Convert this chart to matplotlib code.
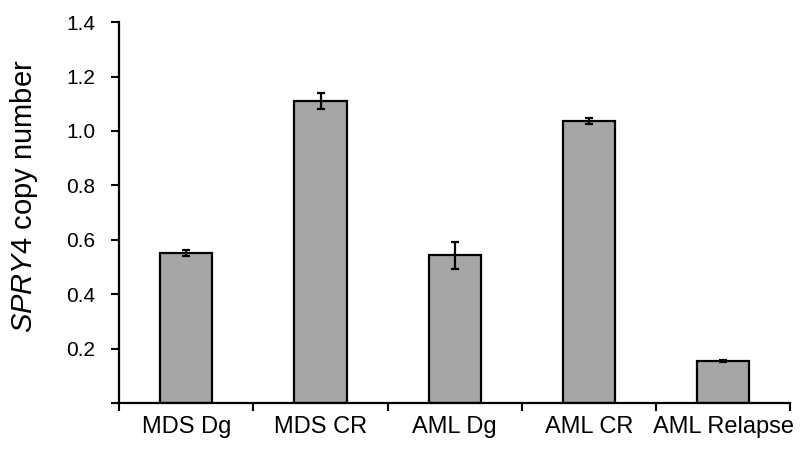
import matplotlib
matplotlib.use("Agg")
import matplotlib.pyplot as plt
import numpy as np

categories = ["MDS Dg", "MDS CR", "AML Dg", "AML CR", "AML Relapse"]
values = [0.551, 1.111, 0.543, 1.036, 0.154]
errors = [0.011, 0.030, 0.050, 0.012, 0.004]
yticks = [0.2, 0.4, 0.6, 0.8, 1.0, 1.2, 1.4]

plt.rcParams['font.family'] = ['Liberation Sans', 'DejaVu Sans']
plt.rcParams['mathtext.fontset'] = 'custom'
plt.rcParams['mathtext.rm'] = 'Liberation Sans'
plt.rcParams['mathtext.it'] = 'Liberation Sans:italic'

fig = plt.figure(figsize=(8, 4.51), dpi=100)
ax = fig.add_axes([0.149, 0.106, 0.839, 0.845])

x = np.arange(len(categories))
ax.bar(x, values, width=0.39, color='#a6a6a6', edgecolor='black', linewidth=1.6,
       yerr=errors, error_kw=dict(ecolor='black', elinewidth=1.6, capsize=3, capthick=1.6), zorder=2)

ax.set_xlim(-0.5, len(categories) - 0.5)
ax.set_ylim(0, 1.4)
ax.set_yticks([0] + yticks)
ax.set_yticklabels([''] + [f"{t:.1f}" for t in yticks])
ax.set_xticks(np.arange(len(categories) + 1) - 0.5)
ax.set_xticklabels([])
ax.set_xticks(x, minor=True)
ax.set_xticklabels(categories, minor=True)
ax.tick_params(axis='x', which='major', direction='out', length=6, width=1.5)
ax.tick_params(axis='x', which='minor', length=0, pad=9, labelsize=17)
ax.tick_params(axis='y', direction='out', length=6, width=1.5, labelsize=15, pad=11)

for s in ['top', 'right']:
    ax.spines[s].set_visible(False)
for s in ['left', 'bottom']:
    ax.spines[s].set_linewidth(1.6)

fig.text(24 / 800, 1 - 196 / 451, r'$\mathit{SPRY4}$ copy number', fontsize=21,
         rotation=90, ha='center', va='center')

fig.savefig("out.png", dpi=100)
